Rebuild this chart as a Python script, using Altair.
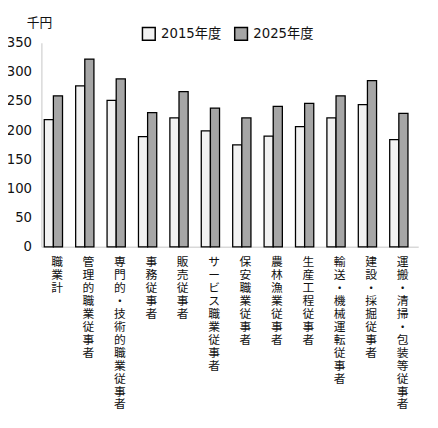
import altair as alt
import pandas as pd

categories = ["職業計", "管理的職業従事者", "専門的・技術的職業従事者", "事務従事者", "販売従事者",
              "サービス職業従事者", "保安職業従事者", "農林漁業従事者", "生産工程従事者",
              "輸送・機械運転従事者", "建設・採掘従事者", "運搬・清掃・包装等従事者"]
years = ["2015年度", "2025年度"]
values_2015 = [218, 276, 251, 189, 221, 199, 175, 190, 206, 221, 244, 184]
values_2025 = [259, 322, 288, 230, 266, 238, 221, 241, 246, 259, 285, 229]
y_ticks = [0, 50, 100, 150, 200, 250, 300, 350]

rows = []
for c, a, b in zip(categories, values_2015, values_2025):
    rows.append({"cat": c, "year": years[0], "value": a})
    rows.append({"cat": c, "year": years[1], "value": b})
df = pd.DataFrame(rows)

JP = "Noto Sans CJK JP"
NUM = "DejaVu Sans, Noto Sans CJK JP"

chart = alt.Chart(df).mark_bar(stroke="black", strokeWidth=1.3).encode(
    x=alt.X("cat:N", sort=categories,
            scale=alt.Scale(paddingInner=0, paddingOuter=0),
            axis=alt.Axis(title=None, labelAngle=0, labelExpr="split(datum.label, '')",
                          labelLineHeight=13.2, labelFontSize=12, labelFont=JP,
                          labelBaseline="top", labelColor="#111", labelPadding=10,
                          ticks=False, domainColor="#d9d9d9", domainWidth=1.5,
                          labelLimit=400, labelOverlap=False)),
    xOffset=alt.XOffset("year:N", sort=years,
                        scale=alt.Scale(domain=years, paddingInner=0, paddingOuter=0.72, align=0.22)),
    y=alt.Y("value:Q",
            scale=alt.Scale(domain=[0, 350], nice=False, zero=True),
            axis=alt.Axis(values=y_ticks, grid=False, ticks=False, domainColor="#d9d9d9",
                          domainWidth=1.5, labelFontSize=13.5, labelFont=NUM, labelColor="#111",
                          labelPadding=10, title="千円", titleAngle=0, titleX=-2.5, titleY=-20.5,
                          titleAlign="center", titleBaseline="middle", titleFontSize=13,
                          titleFont=JP, titleFontWeight="normal", titleColor="#111")),
    color=alt.Color("year:N",
                    scale=alt.Scale(domain=years, range=["#f2f2f2", "#a6a6a6"]),
                    legend=alt.Legend(title=None, orient="none", legendX=102, legendY=-16.5,
                                      direction="horizontal", symbolType="square",
                                      symbolSize=169, symbolStrokeColor="black",
                                      symbolStrokeWidth=1.5, labelFontSize=13.5, labelFont=NUM,
                                      labelColor="#111", labelOffset=5, columnPadding=10,
                                      padding=0)),
).properties(
    width=384, height=208,
    autosize=alt.AutoSizeParams(type="none"),
    padding={"left": 34, "top": 31.5, "right": 12, "bottom": 170},
    background="white",
).configure_view(stroke=None)

chart.save("out.html", embed_options={"renderer": "svg", "actions": False})
